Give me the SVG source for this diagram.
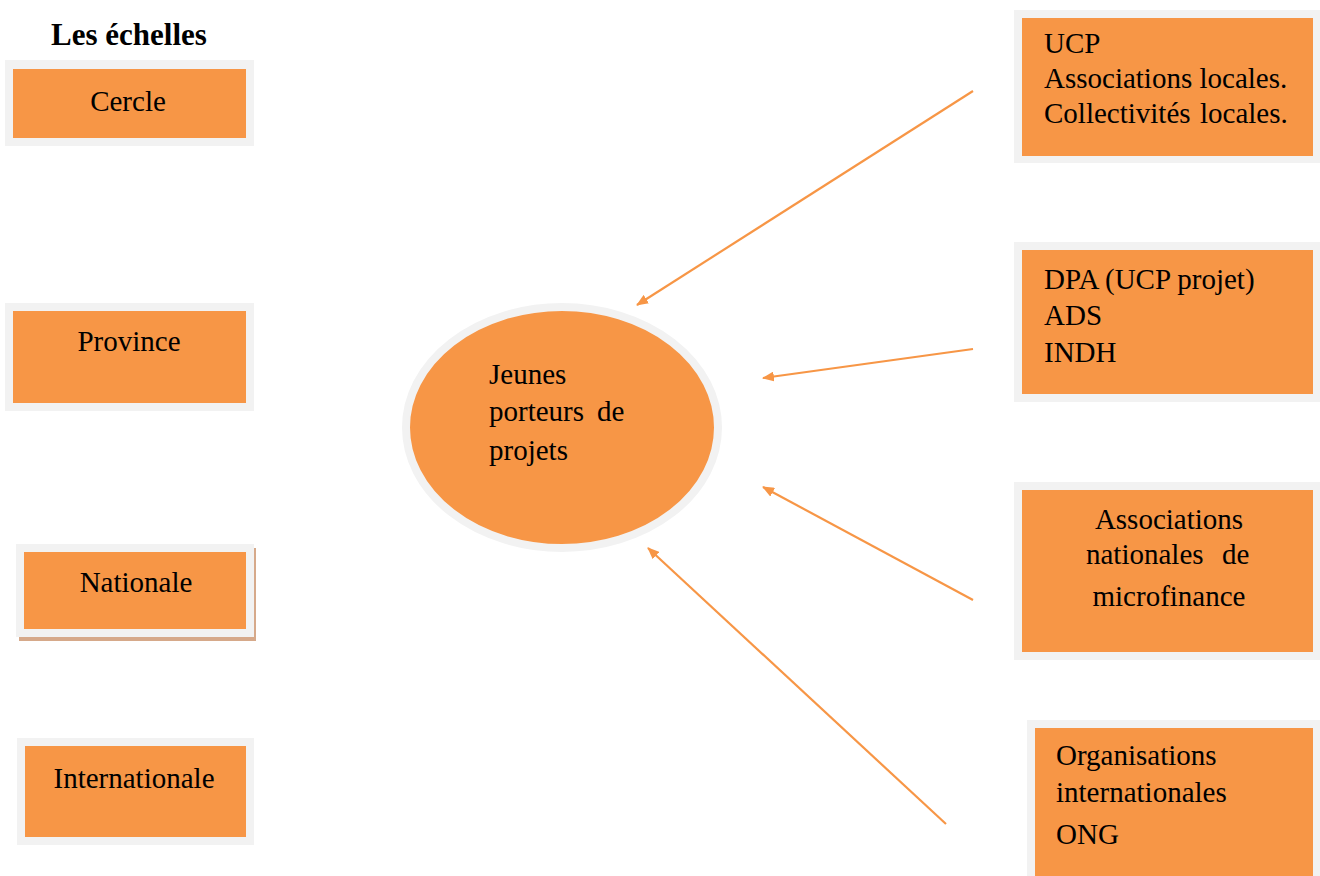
<svg xmlns="http://www.w3.org/2000/svg" width="1320" height="876" viewBox="0 0 1320 876">
<defs>
<style>
.frame{fill:#F2F2F2}
.box{fill:#F79646}
.t{font-family:'Liberation Serif','Tinos','Times New Roman','DejaVu Serif',serif;font-size:29px;fill:#000}
.c{text-anchor:middle}
.conn{stroke:#F79646;stroke-width:2.2;fill:none}
</style>
<marker id="ah" viewBox="0 0 12 10" refX="11" refY="5" markerWidth="12" markerHeight="10" markerUnits="userSpaceOnUse" orient="auto">
<path d="M0,0 L12,5 L0,10 Z" fill="#F79646"/>
</marker>
</defs>
<rect width="1320" height="876" fill="#fff"/>
<text id="title" x="129" y="45" class="t c" font-weight="bold" style="font-size:31px">Les échelles</text>

<g id="cercle">
<rect class="frame" x="5" y="60" width="249" height="86"/>
<rect class="box" x="13" y="69" width="233" height="69"/>
<text class="t c" x="128" y="111">Cercle</text>
</g>
<g id="province">
<rect class="frame" x="5" y="303" width="249" height="108"/>
<rect class="box" x="13" y="311" width="233" height="92"/>
<text class="t c" x="129" y="351">Province</text>
</g>
<g id="nationale">
<rect x="19" y="548" width="237" height="93" fill="#D6A98A"/>
<rect class="frame" x="16" y="544" width="238" height="93"/>
<rect class="box" x="24" y="552" width="222" height="77"/>
<text class="t c" x="136" y="592">Nationale</text>
</g>
<g id="internationale">
<rect class="frame" x="17" y="738" width="237" height="107"/>
<rect class="box" x="25" y="746" width="221" height="91"/>
<text class="t c" x="134" y="788">Internationale</text>
</g>

<g id="jeunes">
<ellipse cx="562" cy="427.5" rx="156" ry="120.5" fill="#F79646" stroke="#F2F2F2" stroke-width="8"/>
<text class="t" x="489" y="384">Jeunes</text>
<text class="t" x="489" y="421">porteurs <tspan x="597">de</tspan></text>
<text class="t" x="489" y="460">projets</text>
</g>

<g id="ucp">
<rect class="frame" x="1014" y="10" width="306" height="153"/>
<rect class="box" x="1022" y="18" width="291" height="138"/>
<text class="t" x="1044" y="53">UCP</text>
<text class="t" x="1044" y="88">Associations locales.</text>
<text class="t" x="1044" y="123">Collectivités <tspan x="1200">locales.</tspan></text>
</g>
<g id="dpa">
<rect class="frame" x="1014" y="242" width="306" height="160"/>
<rect class="box" x="1022" y="250" width="291" height="144"/>
<text class="t" x="1044" y="289">DPA (UCP projet)</text>
<text class="t" x="1044" y="325">ADS</text>
<text class="t" x="1044" y="362">INDH</text>
</g>
<g id="amf">
<rect class="frame" x="1014" y="482" width="306" height="178"/>
<rect class="box" x="1022" y="490" width="291" height="162"/>
<text class="t c" x="1169" y="529">Associations</text>
<text class="t" x="1086" y="564">nationales <tspan x="1222">de</tspan></text>
<text class="t c" x="1169" y="606">microfinance</text>
</g>
<g id="org">
<rect class="frame" x="1027" y="720" width="293" height="156"/>
<rect class="box" x="1035" y="728" width="278" height="148"/>
<text class="t" x="1056" y="765">Organisations</text>
<text class="t" x="1056" y="802">internationales</text>
<text class="t" x="1056" y="844">ONG</text>
</g>

<g id="connectors">
<line class="conn" x1="973" y1="91" x2="637" y2="305" marker-end="url(#ah)"/>
<line class="conn" x1="973" y1="349" x2="763" y2="378" marker-end="url(#ah)"/>
<line class="conn" x1="973" y1="600" x2="763" y2="487" marker-end="url(#ah)"/>
<line class="conn" x1="946" y1="824" x2="648" y2="548" marker-end="url(#ah)"/>
</g>
</svg>
